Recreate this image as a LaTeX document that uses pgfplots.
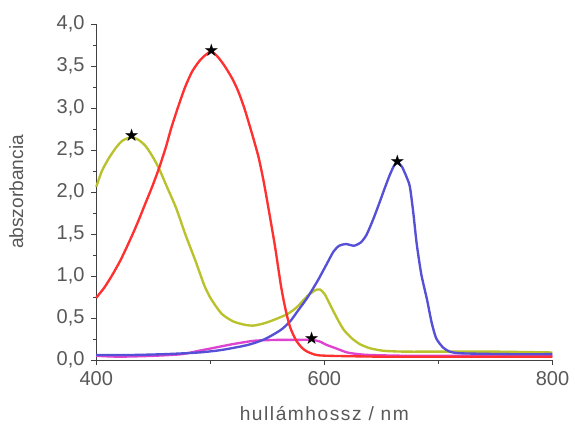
\documentclass[border=0pt]{standalone}
\usepackage{pgfplots}
\pgfplotsset{compat=1.18}
\usepackage{fontspec}
\setmainfont{Liberation Sans}
\newfontfamily\spaced[LetterSpace=8]{Liberation Sans}
\newfontfamily\symfont{DejaVu Sans}

\definecolor{cred}{HTML}{FF3030}
\definecolor{cyel}{HTML}{B9C12B}
\definecolor{cblue}{HTML}{5550D6}
\definecolor{cmag}{HTML}{DE44D0}
\definecolor{txt}{HTML}{585858}

\begin{document}
\begin{tikzpicture}
\begin{axis}[
    scale only axis,
    width=9.2cm, height=6.78cm,
    xmin=400, xmax=800, ymin=0, ymax=4,
    axis lines=left,
    axis line style={-, black!75},
    tick align=outside,
    tick style={black!75},
    major tick length=0.11cm,
    minor tick length=0.07cm,
    xtick={400,600,800},
    minor xtick={500,700},
    ytick distance=0.5,
    minor y tick num=1,
    /pgf/number format/assume math mode=true,
    yticklabel style={/pgf/number format/.cd, fixed, fixed zerofill, precision=1, use comma},
    xticklabel style={/pgf/number format/1000 sep={}},
    ticklabel style={font=\fontsize{11.5}{13}\selectfont, text=txt},
    xlabel={hullámhossz / nm},
    ylabel={abszorbancia},
    xlabel style={font=\spaced\fontsize{11}{13}\selectfont, text=txt,
        at={(axis description cs:0.5,-0.159)}, anchor=center},
    ylabel style={font=\fontsize{11}{13}\selectfont, text=txt,
        at={(axis description cs:-0.175,0.5)}, anchor=center},
    every axis plot/.append style={line width=1.35pt, line join=round, smooth, tension=0.4},
    clip=false,
]
% sárga
\addplot[cyel] coordinates {
 (400,2.06) (405,2.25) (411,2.40) (417,2.52) (423,2.61) (431,2.65) (437,2.62)
 (443,2.55) (449,2.43) (455,2.28) (462,2.06) (470,1.81) (478,1.50) (487,1.18)
 (495,0.88) (501,0.72) (510,0.55) (520,0.46) (530,0.42) (538,0.41) (548,0.44)
 (558,0.49) (568,0.55) (576,0.63) (585,0.76) (592,0.83) (596,0.84) (600,0.79)
 (605,0.66) (611,0.50) (617,0.36) (624,0.26) (631,0.19) (640,0.14) (652,0.11)
 (670,0.10) (700,0.10) (750,0.10) (800,0.09)
};
% lila
\addplot[cmag] coordinates {
 (400,0.05) (420,0.04) (450,0.05) (475,0.07) (490,0.11) (505,0.15) (520,0.19)
 (539,0.23) (560,0.24) (576,0.24) (589,0.24) (596,0.22) (602,0.18) (610,0.14)
 (620,0.09) (630,0.07) (640,0.06) (680,0.05) (800,0.05)
};
% kék
\addplot[cblue] coordinates {
 (400,0.06) (430,0.06) (460,0.07) (490,0.09) (510,0.12) (533,0.18) (548,0.25)
 (562,0.36) (570,0.46) (577,0.59) (585,0.74) (594,0.94) (602,1.14) (608,1.29)
 (613,1.36) (619,1.38) (626,1.36) (632,1.40) (637,1.49) (643,1.68) (648,1.86)
 (652,2.01) (657,2.19) (661,2.31) (664,2.35) (668,2.30) (672,2.18) (675,2.06)
 (678,1.75) (681,1.38) (685,1.02) (690,0.72) (694,0.45) (698,0.26) (704,0.15)
 (710,0.10) (720,0.08) (760,0.07) (800,0.07)
};
% piros
\addplot[cred] coordinates {
 (400,0.74) (407,0.86) (414,1.01) (421,1.18) (427,1.35) (433,1.53) (438,1.69)
 (443,1.86) (449,2.06) (455,2.28) (461,2.53) (466,2.77) (472,3.02) (478,3.25)
 (484,3.43) (490,3.55) (495,3.62) (501,3.67) (507,3.60) (513,3.49) (520,3.33)
 (525,3.18) (530,2.99) (536,2.72) (542,2.43) (546,2.18) (549,1.96) (553,1.65)
 (557,1.33) (562,0.88) (566,0.60) (570,0.39) (575,0.24) (580,0.15) (585,0.10)
 (593,0.06) (605,0.05) (650,0.04) (700,0.04) (800,0.04)
};
% csúcsok
\addplot[black, only marks, mark=text,
    text mark={\fontsize{10}{10}\selectfont\symfont ★}]
 coordinates {(431,2.67) (501,3.69) (664,2.37) (589,0.26)};
\path (axis description cs:-0.2109,-0.1947) rectangle (axis description cs:1.039,1.0708);
\end{axis}
\end{tikzpicture}
\end{document}
